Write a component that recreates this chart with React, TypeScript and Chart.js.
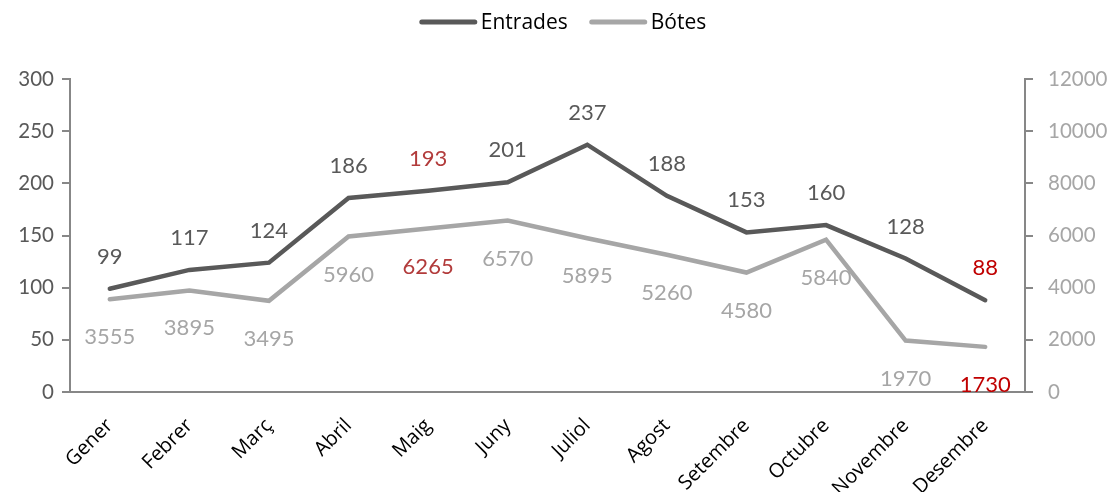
import React, { useEffect, useRef } from "react";
import { Chart, registerables } from "chart.js";

Chart.register(...registerables);

const categories = ["Gener", "Febrer", "Març", "Abril", "Maig", "Juny", "Juliol", "Agost", "Setembre", "Octubre", "Novembre", "Desembre"];
const entrades = [99, 117, 124, 186, 193, 201, 237, 188, 153, 160, 128, 88];
const botes = [3555, 3895, 3495, 5960, 6265, 6570, 5895, 5260, 4580, 5840, 1970, 1730];
const leftTicks = [0, 50, 100, 150, 200, 250, 300];
const rightTicks = [0, 2000, 4000, 6000, 8000, 10000, 12000];

const FONT = "Lato, 'Open Sans', sans-serif";
const FONT2 = "'Open Sans', sans-serif";
const DARK = "#595959";
const LIGHT = "#a6a6a6";
const AXIS = "#878787";

const labelColor = (ds: number, i: number) => {
  if (i === 4) return "#b23b3b";
  if (i === 11) return "#c00000";
  return ds === 0 ? DARK : LIGHT;
};

const dataLabels = {
  id: "dataLabels",
  afterDatasetsDraw(chart: any) {
    const ctx = chart.ctx;
    ctx.save();
    ctx.font = `22px ${FONT}`;
    ctx.textAlign = "center";
    ctx.textBaseline = "middle";
    chart.data.datasets.forEach((ds: any, di: number) => {
      const meta = chart.getDatasetMeta(di);
      meta.data.forEach((pt: any, i: number) => {
        ctx.fillStyle = labelColor(di, i);
        const y = di === 0 ? pt.y - 32 : pt.y + 38;
        ctx.fillText(String(ds.data[i]), pt.x, y);
      });
    });
    ctx.restore();
  },
};

const customLegend = {
  id: "customLegend",
  afterDraw(chart: any) {
    const ctx = chart.ctx;
    ctx.save();
    ctx.font = `21px ${FONT2}`;
    ctx.textBaseline = "middle";
    const items = chart.data.datasets.map((d: any) => ({ text: d.label, color: d.borderColor }));
    const lineW = 57, gap = 4, itemGap = 22;
    const widths = items.map((it: any) => lineW + gap + ctx.measureText(it.text).width);
    const total = widths.reduce((a: number, b: number) => a + b, 0) + itemGap * (items.length - 1);
    let x = chart.width / 2 + 7 - total / 2;
    const y = 22;
    items.forEach((it: any, i: number) => {
      ctx.strokeStyle = it.color;
      ctx.lineWidth = 5;
      ctx.lineCap = "round";
      ctx.beginPath();
      ctx.moveTo(x + 2, y);
      ctx.lineTo(x + lineW - 2, y);
      ctx.stroke();
      ctx.fillStyle = "#000";
      ctx.fillText(it.text, x + lineW + gap, y + 1);
      x += widths[i] + itemGap;
    });
    ctx.restore();
  },
};

export default function App() {
  const ref = useRef<HTMLCanvasElement>(null);
  useEffect(() => {
    if (!ref.current) return;
    const chart = new Chart(ref.current, {
      type: "line",
      data: {
        labels: categories,
        datasets: [
          {
            label: "Entrades",
            data: entrades,
            borderColor: DARK,
            backgroundColor: DARK,
            borderWidth: 4.5,
            pointRadius: 0,
            tension: 0,
            borderCapStyle: "round",
            yAxisID: "y",
          },
          {
            label: "Bótes",
            data: botes,
            borderColor: LIGHT,
            backgroundColor: LIGHT,
            borderWidth: 4.5,
            pointRadius: 0,
            tension: 0,
            borderCapStyle: "round",
            yAxisID: "y1",
          },
        ],
      },
      options: {
        animation: false,
        responsive: false,
        layout: { padding: { top: 79, right: 0, left: 0, bottom: 0 } },
        plugins: { legend: { display: false }, tooltip: { enabled: false } },
        scales: {
          x: {
            offset: true,
            grid: { display: false },
            border: { display: true, color: AXIS, width: 2 },
            ticks: {
              color: "#000",
              font: { family: FONT2, size: 20 },
              maxRotation: 45,
              minRotation: 45,
              padding: 14,
              autoSkip: false,
            },
            afterFit(s: any) { s.height = 100; },
          },
          y: {
            position: "left",
            min: 0,
            max: 300,
            afterBuildTicks(s: any) { s.ticks = leftTicks.map((v) => ({ value: v })); },
            grid: { display: true, drawOnChartArea: false, drawTicks: true, tickLength: 8, color: AXIS, lineWidth: 2 },
            border: { display: true, color: AXIS, width: 2 },
            ticks: { color: DARK, font: { family: FONT, size: 20.5 }, padding: 8, callback: (v: any) => String(v) },
            afterFit(s: any) { s.width = 70; },
          },
          y1: {
            position: "right",
            min: 0,
            max: 12000,
            afterBuildTicks(s: any) { s.ticks = rightTicks.map((v) => ({ value: v })); },
            grid: { display: true, drawOnChartArea: false, drawTicks: true, tickLength: 8, color: AXIS, lineWidth: 2 },
            border: { display: true, color: AXIS, width: 2 },
            ticks: { color: LIGHT, font: { family: FONT, size: 20.5 }, padding: 15, callback: (v: any) => String(v) },
            afterFit(s: any) { s.width = 87; },
          },
        },
      },
      plugins: [dataLabels, customLegend],
    } as any);
    return () => chart.destroy();
  }, []);
  return (
    <div style={{ position: "fixed", left: 0, top: 0, width: 1112, height: 492, background: "#fff" }}>
      <canvas ref={ref} width={1112} height={492} style={{ width: 1112, height: 492 }} />
    </div>
  );
}
